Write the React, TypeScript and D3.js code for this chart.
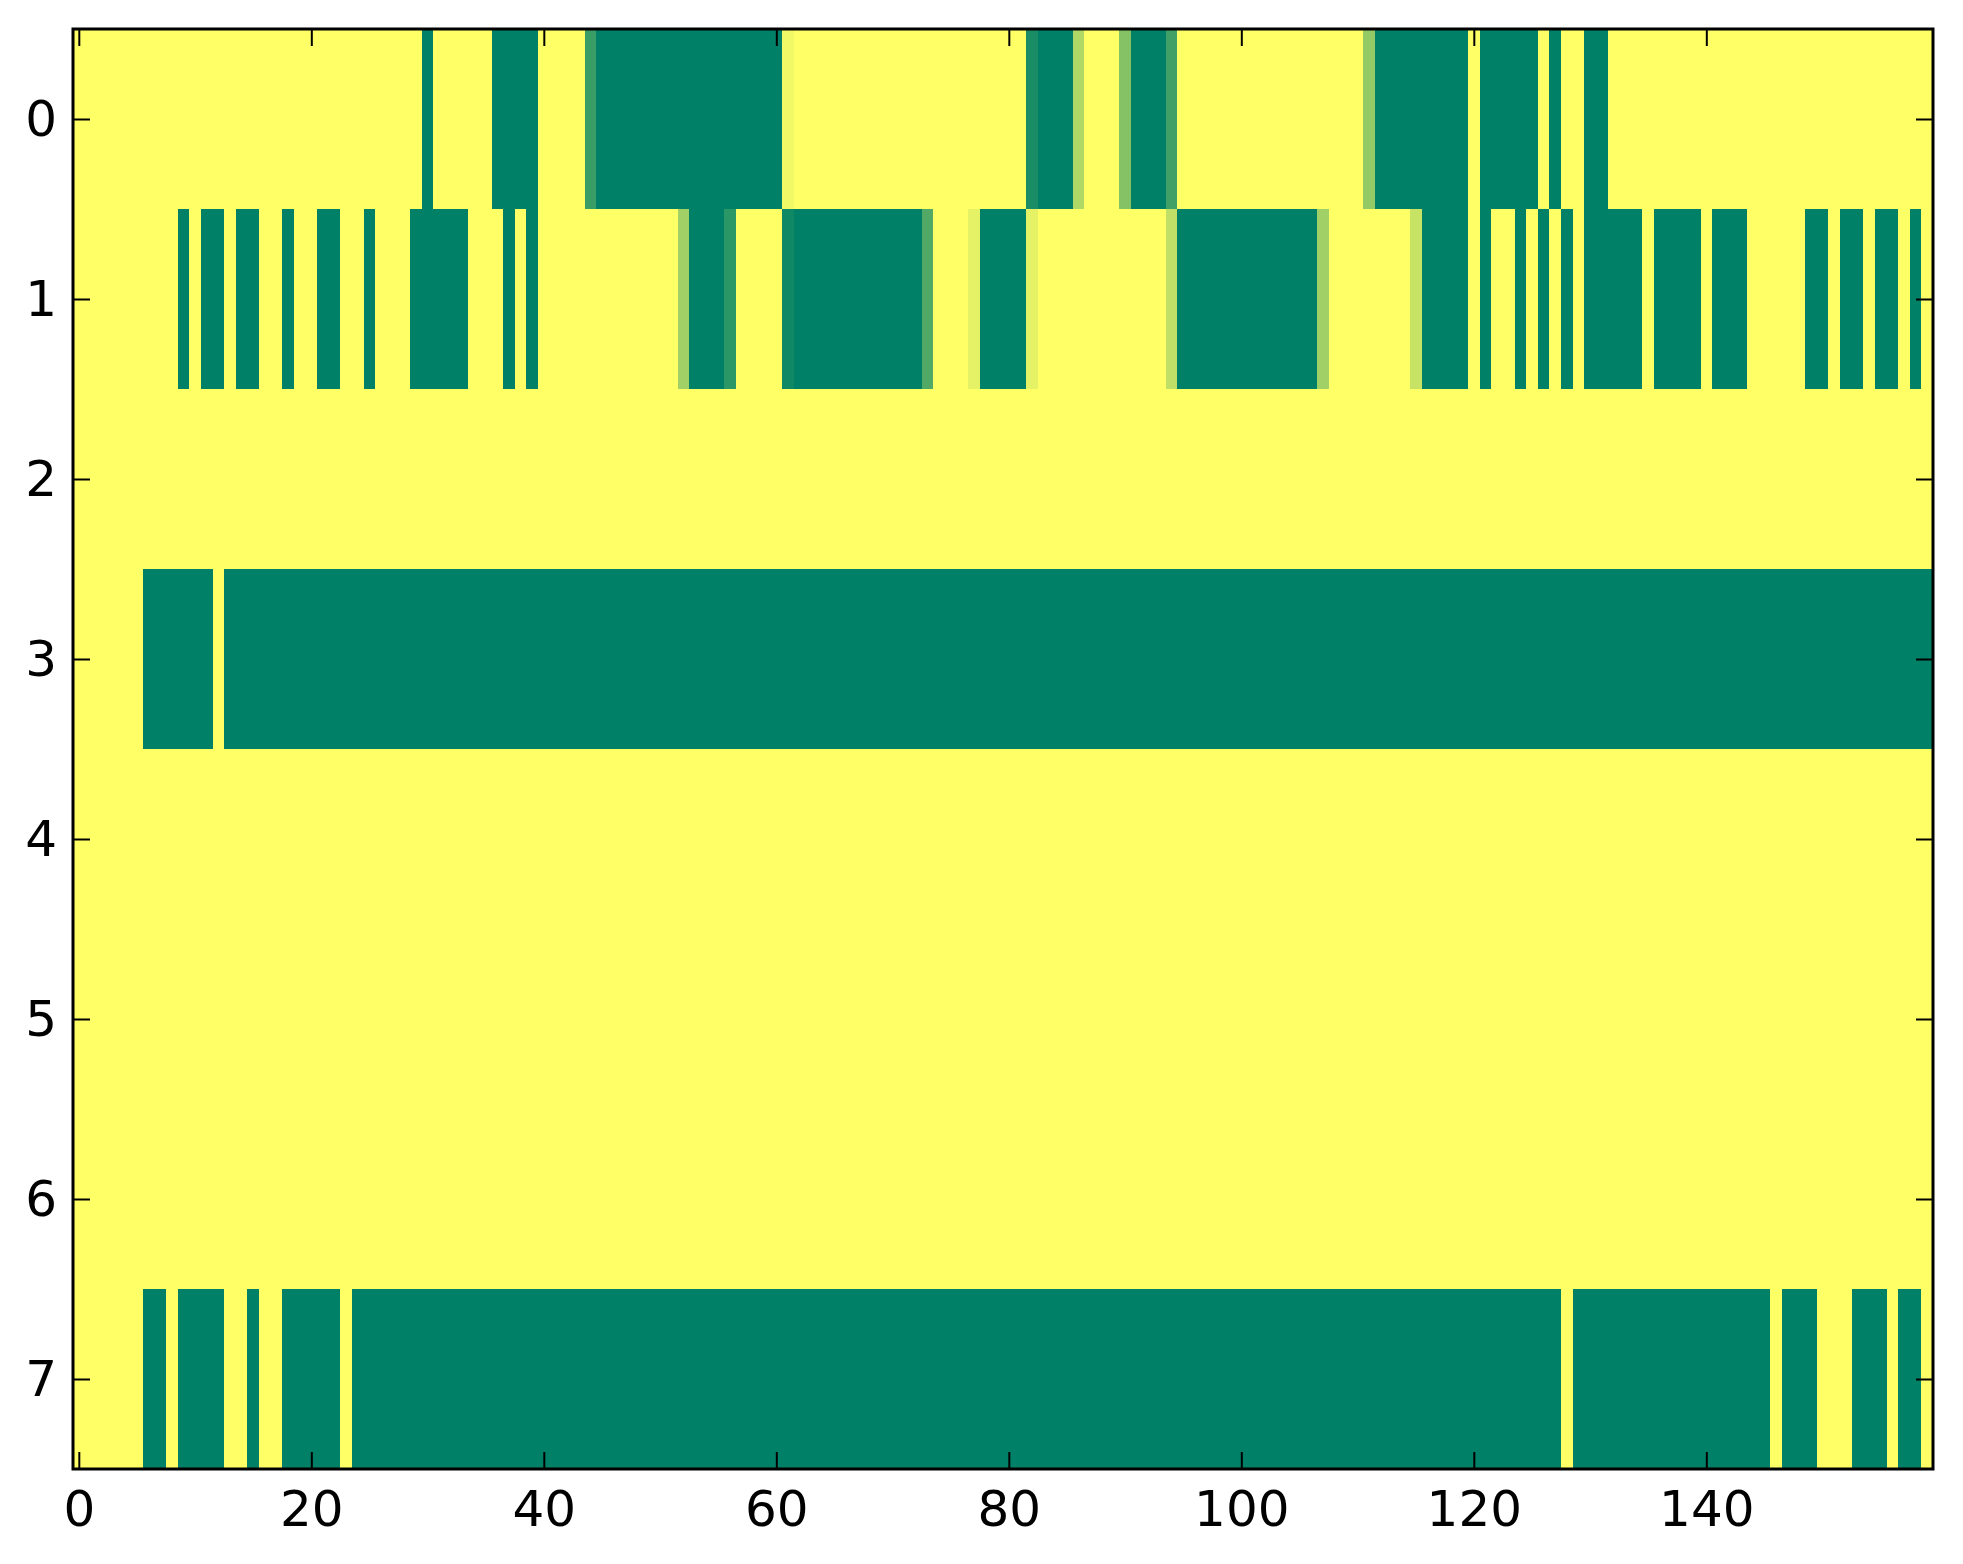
import React, { useEffect, useRef, ReactElement } from 'react'
import * as d3 from 'd3'

// row values, one entry per column (160 columns)
const row0 = [
  1,1,1,1,1,1,1,1,1,1, 1,1,1,1,1,1,1,1,1,1, 1,1,1,1,1,1,1,1,1,1, 0,1,1,1,1,1,0,0,0,0,
  1,1,1,1,0.23,0,0,0,0,0, 0,0,0,0,0,0,0,0,0,0, 0,0.95,1,1,1,1,1,1,1,1, 1,1,1,1,1,1,1,1,1,1,
  1,1,0.1,0,0,0,0.69,1,1,1, 0.52,0,0,0,0.25,1,1,1,1,1, 1,1,1,1,1,1,1,1,1,1, 1,0.58,0,0,0,0,0,0,0,0,
  1,0,0,0,0,0,1,0,1,1, 0,0,1,1,1,1,1,1,1,1, 1,1,1,1,1,1,1,1,1,1, 1,1,1,1,1,1,1,1,1,1
]
const row1 = [
  1,1,1,1,1,1,1,1,1,0, 1,0,0,1,0,0,1,1,0,1, 1,0,0,1,1,0,1,1,1,0, 0,0,0,0,1,1,1,0,1,0,
  1,1,1,1,1,1,1,1,1,1, 1,1,0.63,0,0,0,0.17,1,1,1, 1,0.06,0,0,0,0,0,0,0,0, 0,0,0,0.32,1,1,1,0.9,0,0,
  0,0,0.9,1,1,1,1,1,1,1, 1,1,1,1,0.75,0,0,0,0,0, 0,0,0,0,0,0,0,0.63,1,1, 1,1,1,1,1,0.78,0,0,0,0,
  1,0,1,1,0,1,0,1,0,1, 0,0,0,0,0,1,0,0,0,0, 1,0,0,0,1,1,1,1,1,0, 0,1,0,0,1,0,0,1,0,1
]
const row2 = [
  1,1,1,1,1,1,1,1,1,1, 1,1,1,1,1,1,1,1,1,1, 1,1,1,1,1,1,1,1,1,1, 1,1,1,1,1,1,1,1,1,1,
  1,1,1,1,1,1,1,1,1,1, 1,1,1,1,1,1,1,1,1,1, 1,1,1,1,1,1,1,1,1,1, 1,1,1,1,1,1,1,1,1,1,
  1,1,1,1,1,1,1,1,1,1, 1,1,1,1,1,1,1,1,1,1, 1,1,1,1,1,1,1,1,1,1, 1,1,1,1,1,1,1,1,1,1,
  1,1,1,1,1,1,1,1,1,1, 1,1,1,1,1,1,1,1,1,1, 1,1,1,1,1,1,1,1,1,1, 1,1,1,1,1,1,1,1,1,1
]
const row3 = [
  1,1,1,1,1,1,0,0,0,0, 0,0,1,0,0,0,0,0,0,0, 0,0,0,0,0,0,0,0,0,0, 0,0,0,0,0,0,0,0,0,0,
  0,0,0,0,0,0,0,0,0,0, 0,0,0,0,0,0,0,0,0,0, 0,0,0,0,0,0,0,0,0,0, 0,0,0,0,0,0,0,0,0,0,
  0,0,0,0,0,0,0,0,0,0, 0,0,0,0,0,0,0,0,0,0, 0,0,0,0,0,0,0,0,0,0, 0,0,0,0,0,0,0,0,0,0,
  0,0,0,0,0,0,0,0,0,0, 0,0,0,0,0,0,0,0,0,0, 0,0,0,0,0,0,0,0,0,0, 0,0,0,0,0,0,0,0,0,0
]
const row4 = [
  1,1,1,1,1,1,1,1,1,1, 1,1,1,1,1,1,1,1,1,1, 1,1,1,1,1,1,1,1,1,1, 1,1,1,1,1,1,1,1,1,1,
  1,1,1,1,1,1,1,1,1,1, 1,1,1,1,1,1,1,1,1,1, 1,1,1,1,1,1,1,1,1,1, 1,1,1,1,1,1,1,1,1,1,
  1,1,1,1,1,1,1,1,1,1, 1,1,1,1,1,1,1,1,1,1, 1,1,1,1,1,1,1,1,1,1, 1,1,1,1,1,1,1,1,1,1,
  1,1,1,1,1,1,1,1,1,1, 1,1,1,1,1,1,1,1,1,1, 1,1,1,1,1,1,1,1,1,1, 1,1,1,1,1,1,1,1,1,1
]
const row5 = [
  1,1,1,1,1,1,1,1,1,1, 1,1,1,1,1,1,1,1,1,1, 1,1,1,1,1,1,1,1,1,1, 1,1,1,1,1,1,1,1,1,1,
  1,1,1,1,1,1,1,1,1,1, 1,1,1,1,1,1,1,1,1,1, 1,1,1,1,1,1,1,1,1,1, 1,1,1,1,1,1,1,1,1,1,
  1,1,1,1,1,1,1,1,1,1, 1,1,1,1,1,1,1,1,1,1, 1,1,1,1,1,1,1,1,1,1, 1,1,1,1,1,1,1,1,1,1,
  1,1,1,1,1,1,1,1,1,1, 1,1,1,1,1,1,1,1,1,1, 1,1,1,1,1,1,1,1,1,1, 1,1,1,1,1,1,1,1,1,1
]
const row6 = [
  1,1,1,1,1,1,1,1,1,1, 1,1,1,1,1,1,1,1,1,1, 1,1,1,1,1,1,1,1,1,1, 1,1,1,1,1,1,1,1,1,1,
  1,1,1,1,1,1,1,1,1,1, 1,1,1,1,1,1,1,1,1,1, 1,1,1,1,1,1,1,1,1,1, 1,1,1,1,1,1,1,1,1,1,
  1,1,1,1,1,1,1,1,1,1, 1,1,1,1,1,1,1,1,1,1, 1,1,1,1,1,1,1,1,1,1, 1,1,1,1,1,1,1,1,1,1,
  1,1,1,1,1,1,1,1,1,1, 1,1,1,1,1,1,1,1,1,1, 1,1,1,1,1,1,1,1,1,1, 1,1,1,1,1,1,1,1,1,1
]
const row7 = [
  1,1,1,1,1,1,0,0,1,0, 0,0,0,1,1,0,1,1,0,0, 0,0,0,1,0,0,0,0,0,0, 0,0,0,0,0,0,0,0,0,0,
  0,0,0,0,0,0,0,0,0,0, 0,0,0,0,0,0,0,0,0,0, 0,0,0,0,0,0,0,0,0,0, 0,0,0,0,0,0,0,0,0,0,
  0,0,0,0,0,0,0,0,0,0, 0,0,0,0,0,0,0,0,0,0, 0,0,0,0,0,0,0,0,0,0, 0,0,0,0,0,0,0,0,0,0,
  0,0,0,0,0,0,0,0,1,0, 0,0,0,0,0,0,0,0,0,0, 0,0,0,0,0,0,1,0,0,0, 1,1,1,0,0,0,1,0,0,1
]
const rows = [row0, row1, row2, row3, row4, row5, row6, row7]

const xTicks = [0, 20, 40, 60, 80, 100, 120, 140]
const yTicks = [0, 1, 2, 3, 4, 5, 6, 7]

const App = (): ReactElement => {
  const ref = useRef<SVGSVGElement>(null)

  const drawChart = () => {
    document.body.style.margin = '0'
    const width = 1963
    const height = 1564
    const margin = { top: 29, right: 30, bottom: 95, left: 73 }
    const nCols = row0.length

    const svg = d3.select(ref.current)
    svg.selectAll('*').remove()

    const x = d3.scaleLinear()
      .domain([-0.5, nCols - 0.5])
      .range([margin.left, width - margin.right])
    const y = d3.scaleLinear()
      .domain([-0.5, rows.length - 0.5])
      .range([margin.top, height - margin.bottom])

    // matplotlib "summer" colormap
    const color = d3.scaleLinear<string>()
      .domain([0, 1])
      .range(['#008066', '#ffff66'])

    const cells = rows.flatMap((r, ri) => r.map((v, ci) => ({ ri, ci, v })))

    svg.append('g')
      .attr('shape-rendering', 'crispEdges')
      .selectAll('rect')
      .data(cells)
      .join('rect')
      .attr('x', d => x(d.ci - 0.5))
      .attr('y', d => y(d.ri - 0.5))
      .attr('width', x(1) - x(0) + 0.4)
      .attr('height', y(1) - y(0) + 0.4)
      .attr('fill', d => color(d.v))

    const tickLen = 17
    const font = 'DejaVu Sans'

    const styleAxis = (g: any) => {
      g.select('.domain').remove()
      g.selectAll('.tick line').attr('stroke', '#000').attr('stroke-width', 2)
      g.selectAll('.tick text')
        .attr('fill', '#000')
        .style('font-family', font)
        .style('font-size', '50px')
    }

    svg.append('g')
      .attr('transform', `translate(0,${height - margin.bottom})`)
      .call(d3.axisBottom(x).tickValues(xTicks).tickSize(-tickLen).tickPadding(21).tickFormat(d3.format('d')))
      .call(styleAxis)

    svg.append('g')
      .attr('transform', `translate(0,${margin.top})`)
      .call(d3.axisTop(x).tickValues(xTicks).tickSize(-tickLen).tickFormat(() => ''))
      .call(styleAxis)

    svg.append('g')
      .attr('transform', `translate(${margin.left},0)`)
      .call(d3.axisLeft(y).tickValues(yTicks).tickSize(-tickLen).tickPadding(16).tickFormat(d3.format('d')))
      .call(styleAxis)

    svg.append('g')
      .attr('transform', `translate(${width - margin.right},0)`)
      .call(d3.axisRight(y).tickValues(yTicks).tickSize(-tickLen).tickFormat(() => ''))
      .call(styleAxis)

    // frame
    svg.append('rect')
      .attr('x', margin.left)
      .attr('y', margin.top)
      .attr('width', width - margin.left - margin.right)
      .attr('height', height - margin.top - margin.bottom)
      .attr('fill', 'none')
      .attr('stroke', '#000')
      .attr('stroke-width', 3)
  }

  useEffect(drawChart, [])

  return (
    <svg ref={ref} width={1963} height={1564} style={{ display: 'block', background: '#fff' }}></svg>
  )
}

export default App
